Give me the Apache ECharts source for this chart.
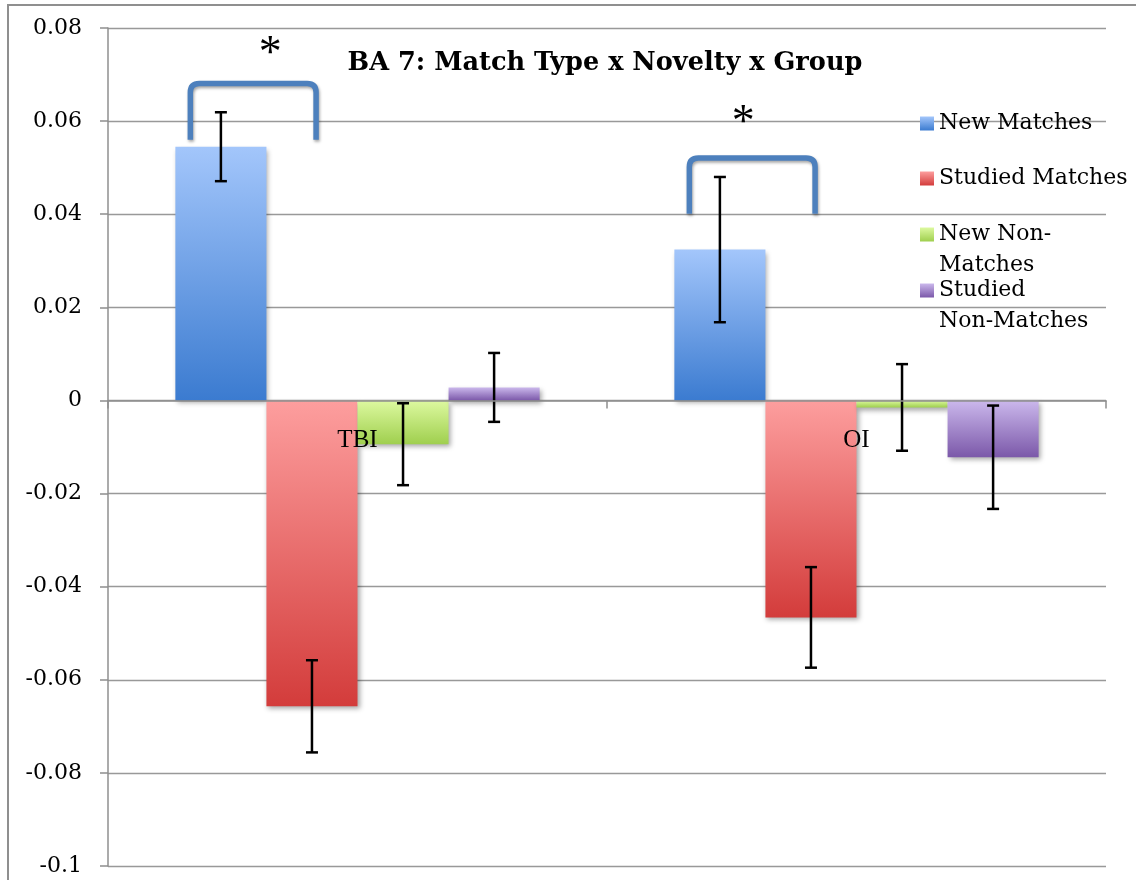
<!DOCTYPE html>
<html>
<head>
<meta charset="utf-8">
<script src="https://cdn.jsdelivr.net/npm/echarts@6/dist/echarts.min.js"></script>
<style>
  html, body { margin: 0; padding: 0; background: #fff; }
  #chart { width: 1136px; height: 880px; }
</style>
</head>
<body>
<div id="chart"></div>
<script>
// Groups on the x axis
const categories = ['TBI', 'OI'];

// Series names and the text shown for them in the legend
const seriesNames = ['New Matches', 'Studied Matches', 'New Non-Matches', 'Studied Non-Matches'];
const legendLabels = ['New Matches', 'Studied Matches', 'New Non-\nMatches', 'Studied\nNon-Matches'];

// Mean values per group (TBI, OI)
const newMatches = [0.0545, 0.0324];
const studiedMatches = [-0.0657, -0.0466];
const newNonMatches = [-0.0094, -0.0015];
const studiedNonMatches = [0.0028, -0.0122];

// Error bar half-widths per group (TBI, OI)
const newMatchesErr = [0.0074, 0.0156];
const studiedMatchesErr = [0.0099, 0.0108];
const newNonMatchesErr = [0.0088, 0.0093];
const studiedNonMatchesErr = [0.0074, 0.0111];

// Significance brackets: [group index, foot value, top value, star value, star offset within the group]
const brackets = [
  [0, 0.056, 0.0681, 0.0755, -0.175],
  [1, 0.0401, 0.0521, 0.0607, -0.227]
];

// Y axis range and step
const yMin = -0.1, yMax = 0.08, yStep = 0.02;

const chartTitle = 'BA 7: Match Type x Novelty x Group';
const captionText = 'Figure 6: Graph of the Match Type by Novelty by Group Interaction';

const values = [newMatches, studiedMatches, newNonMatches, studiedNonMatches];
const errors = [newMatchesErr, studiedMatchesErr, newNonMatchesErr, studiedNonMatchesErr];

const gradients = [
  ['#a3c6fb', '#3b7bd0'],
  ['#fd9e9e', '#d33c3b'],
  ['#ddf9a0', '#9fcf4e'],
  ['#cbb8ec', '#7b58a9']
];

const serifFont = 'DejaVu Serif';
const catGap = 0.27;

function grad(c) {
  return new echarts.graphic.LinearGradient(0, 0, 0, 1, [
    { offset: 0, color: c[0] },
    { offset: 1, color: c[1] }
  ]);
}

const barSeries = seriesNames.map((name, i) => ({
  name: name,
  type: 'bar',
  data: values[i],
  barGap: '0%',
  barCategoryGap: (catGap * 100) + '%',
  itemStyle: {
    color: grad(gradients[i]),
    shadowColor: 'rgba(0,0,0,0.35)',
    shadowBlur: 5,
    shadowOffsetX: 2,
    shadowOffsetY: 3
  },
  z: 2
}));

// Error bars centred on each bar
const errorData = [];
values.forEach((vals, s) => {
  vals.forEach((v, c) => {
    errorData.push([c, v - errors[s][c], v + errors[s][c], s]);
  });
});

const errorSeries = {
  type: 'custom',
  name: 'errors',
  data: errorData,
  z: 5,
  silent: true,
  renderItem: function (params, api) {
    const c = api.value(0);
    const s = api.value(3);
    const band = api.size([1, 0])[0];
    const bw = band * (1 - catGap) / 4;
    const x = api.coord([c, 0])[0] + (s - 1.5) * bw;
    const yLo = api.coord([c, api.value(1)])[1];
    const yHi = api.coord([c, api.value(2)])[1];
    const cap = 6;
    const style = { stroke: '#000', lineWidth: 2.5 };
    return {
      type: 'group',
      children: [
        { type: 'line', shape: { x1: x, y1: yLo, x2: x, y2: yHi }, style: style },
        { type: 'line', shape: { x1: x - cap, y1: yHi, x2: x + cap, y2: yHi }, style: style },
        { type: 'line', shape: { x1: x - cap, y1: yLo, x2: x + cap, y2: yLo }, style: style }
      ]
    };
  }
};

// Category names written just under the zero line
const categoryLabelSeries = {
  type: 'custom',
  name: 'categoryLabels',
  data: categories.map((c, i) => [i, 0]),
  z: 8,
  silent: true,
  renderItem: function (params, api) {
    const p = api.coord([api.value(0), api.value(1)]);
    return {
      type: 'text',
      style: {
        text: categories[params.dataIndex],
        x: p[0],
        y: p[1] + 40,
        align: 'center',
        verticalAlign: 'middle',
        font: '25px "Liberation Serif"',
        fill: '#000'
      }
    };
  }
};

// Brackets with a star above, spanning the first two bars of a group
const bracketSeries = {
  type: 'custom',
  name: 'brackets',
  data: brackets,
  z: 6,
  silent: true,
  renderItem: function (params, api) {
    const c = api.value(0);
    const band = api.size([1, 0])[0];
    const cx = api.coord([c, 0])[0];
    const x1 = cx - band * 0.335;
    const x2 = cx - band * 0.083;
    const yb = api.coord([c, api.value(1)])[1];
    const yt = api.coord([c, api.value(2)])[1];
    const ys = api.coord([c, api.value(3)])[1];
    const xs = cx + band * api.value(4);
    const r = 9;
    const path = 'M' + x1 + ' ' + yb +
      ' L' + x1 + ' ' + (yt + r) +
      ' Q' + x1 + ' ' + yt + ' ' + (x1 + r) + ' ' + yt +
      ' L' + (x2 - r) + ' ' + yt +
      ' Q' + x2 + ' ' + yt + ' ' + x2 + ' ' + (yt + r) +
      ' L' + x2 + ' ' + yb;
    return {
      type: 'group',
      children: [
        {
          type: 'path',
          shape: { pathData: path },
          style: {
            fill: 'none',
            stroke: '#4d80bd',
            lineWidth: 5.5,
            lineCap: 'butt',
            shadowColor: 'rgba(0,0,0,0.35)',
            shadowBlur: 3,
            shadowOffsetX: 1,
            shadowOffsetY: 2
          }
        },
        {
          type: 'text',
          style: {
            text: '*',
            x: xs,
            y: ys + 6,
            align: 'center',
            verticalAlign: 'middle',
            font: '46px "Liberation Serif"',
            fill: '#000'
          }
        }
      ]
    };
  }
};

// One legend block per series; a blank first line keeps each swatch beside the first text line
const legendTops = [108, 163, 188, 244];
const legends = seriesNames.map((name, i) => {
  const twoLine = legendLabels[i].indexOf('\n') >= 0;
  return {
    data: [name],
    left: 920,
    top: legendTops[i],
    padding: 0,
    itemWidth: 14,
    itemHeight: 14,
    icon: 'rect',
    selectedMode: false,
    formatter: () => (twoLine ? ' \n' : '') + legendLabels[i],
    textStyle: {
      fontFamily: serifFont,
      fontSize: 22,
      lineHeight: 31,
      color: '#000'
    }
  };
});

const option = {
  backgroundColor: '#fff',
  animation: false,
  title: {
    text: chartTitle,
    left: 600,
    top: 45,
    textAlign: 'center',
    textStyle: { fontFamily: serifFont, fontWeight: 'bold', fontSize: 25.6, color: '#000' }
  },
  legend: legends,
  grid: { left: 108, right: 30, top: 28, bottom: 14, containLabel: false, outerBoundsMode: 'none' },
  xAxis: {
    type: 'category',
    data: categories,
    z: 10,
    axisLine: { onZero: true, lineStyle: { color: '#8f8f8f', width: 1.5 } },
    axisTick: { show: true, length: 8, lineStyle: { color: '#8f8f8f', width: 1.5 } },
    axisLabel: { show: false },
    splitLine: { show: false }
  },
  yAxis: {
    type: 'value',
    min: yMin,
    max: yMax,
    interval: yStep,
    axisLine: { show: true, lineStyle: { color: '#8f8f8f', width: 1.5 } },
    axisTick: { show: true, length: 8, lineStyle: { color: '#8f8f8f', width: 1.5 } },
    axisLabel: {
      fontFamily: serifFont,
      fontSize: 22,
      color: '#000',
      margin: 26,
      formatter: v => (Math.abs(v) < 1e-9 ? '0' : String(+v.toFixed(2)))
    },
    splitLine: { show: true, lineStyle: { color: '#999', width: 1.3 } }
  },
  graphic: [
    {
      type: 'rect',
      shape: { x: 8, y: 5, width: 1200, height: 1000 },
      style: { fill: 'none', stroke: '#8f8f8f', lineWidth: 2 },
      z: -1,
      silent: true
    },
    {
      type: 'text',
      left: -4,
      top: -23,
      style: { text: captionText, font: '24px "Liberation Serif"', fill: '#000' },
      silent: true
    }
  ],
  series: barSeries.concat([errorSeries, bracketSeries, categoryLabelSeries])
};

const chart = echarts.init(document.getElementById('chart'), null, { renderer: 'canvas' });
chart.setOption(option);
</script>
</body>
</html>
